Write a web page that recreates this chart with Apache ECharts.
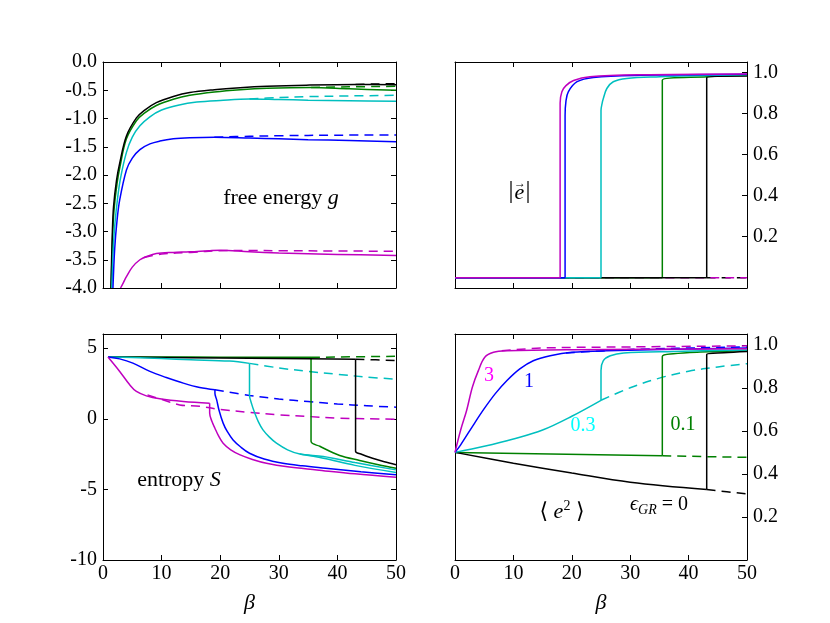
<!DOCTYPE html>
<html>
<head>
<meta charset="utf-8">
<title>free energy, entropy and eccentricity vs beta</title>
<script src="https://cdn.jsdelivr.net/npm/echarts@6/dist/echarts.min.js"></script>
<style>
  html, body { margin: 0; padding: 0; background: #fff; }
  #chart { width: 830px; height: 623px; }
</style>
</head>
<body>
<div id="chart"></div>
<script>
// Tick values
const xTicks = [0, 10, 20, 30, 40, 50];
const gTicks = [-4, -3.5, -3, -2.5, -2, -1.5, -1, -0.5, 0];
const eTicks = [0.2, 0.4, 0.6, 0.8, 1.0];
const sTicks = [-10, -5, 0, 5];
const e2Ticks = [0.2, 0.4, 0.6, 0.8, 1.0];

// Free energy g  [beta, g]
const gBlack = [[1.35,-4.0],[1.6,-3.0],[1.8,-2.56],[2.3,-2.1],[2.85,-1.79],[4,-1.31],[5.7,-0.99],[7,-0.86],[9.1,-0.72],[12,-0.61],[14.8,-0.54],[19,-0.49],[23.4,-0.455],[28,-0.43],[34.7,-0.41],[43.1,-0.398],[50,-0.402]];
const gBlackDash = [[43.1,-0.398],[46,-0.39],[50,-0.383]];
const gGreen = [[1.4,-4.0],[1.65,-3.05],[1.9,-2.6],[2.4,-2.15],[2.9,-1.85],[4,-1.36],[5.7,-1.04],[7,-0.91],[9.1,-0.77],[12,-0.66],[14.8,-0.59],[19,-0.53],[23.4,-0.49],[28,-0.465],[35.5,-0.452],[42,-0.475],[50,-0.5]];
const gGreenDash = [[35.5,-0.452],[42,-0.44],[50,-0.43]];
const gCyan = [[1.5,-4.0],[1.75,-3.3],[2.0,-2.9],[2.5,-2.4],[3,-2.05],[4,-1.6],[5,-1.33],[6.3,-1.13],[8,-0.97],[10,-0.85],[13,-0.76],[16,-0.71],[20,-0.68],[25,-0.655],[30,-0.665],[35,-0.675],[42,-0.685],[50,-0.695]];
const gCyanDash = [[25,-0.655],[30,-0.63],[35,-0.613],[42,-0.6],[50,-0.59]];
const gBlue = [[1.7,-4.0],[2.0,-3.3],[2.4,-2.8],[2.85,-2.44],[4,-1.91],[5,-1.7],[6.3,-1.55],[8,-1.45],[9.7,-1.4],[12,-1.36],[14.8,-1.34],[19,-1.33],[25,-1.345],[30,-1.36],[35,-1.375],[42,-1.39],[50,-1.41]];
const gBlueDash = [[19,-1.33],[25,-1.315],[30,-1.305],[40,-1.295],[50,-1.29]];
const gMagenta = [[3.0,-4.0],[3.5,-3.9],[4,-3.8],[5,-3.63],[6.3,-3.5],[7.5,-3.44],[9.1,-3.39],[12,-3.37],[14.8,-3.36],[18,-3.34],[20,-3.33],[25,-3.36],[30,-3.38],[40,-3.405],[50,-3.425]];
const gMagentaDash = [[7,-3.46],[10,-3.4],[15,-3.37],[20,-3.34],[25,-3.335],[30,-3.34],[40,-3.345],[50,-3.35]];

// |e|  [beta, |e|]
const eBlack = [[0,0],[43.1,0],[43.1,0.975],[50,0.982]];
const eBlackDash = [[43.1,0],[50,0]];
const eGreen = [[0,0],[35.5,0],[35.5,0.962],[43.1,0.978],[50,0.985]];
const eCyan = [[0,0],[25,0],[25,0.814],[25.2,0.85],[25.4,0.872],[26,0.921],[27.1,0.954],[29.4,0.97],[35.1,0.978],[42,0.984],[50,0.988]];
const eBlue = [[0,0],[18.85,0],[18.85,0.79],[19,0.86],[19.4,0.905],[20.9,0.954],[23.7,0.975],[31.7,0.985],[50,0.99]];
const eMagenta = [[0,0],[18,0],[18,0.85],[18.3,0.905],[19,0.935],[20.3,0.96],[23.1,0.978],[31.7,0.988],[50,0.992]];
const eMagentaDash = [[18,0],[50,0]];

// entropy S  [beta, S]
const sBlack = [[0.85,4.37],[10,4.34],[20,4.3],[30,4.26],[43.1,4.22],[43.1,-2.3],[44,-2.5],[46,-2.8],[48,-3.05],[50,-3.25]];
const sBlackDash = [[43.1,4.22],[50,4.12]];
const sGreen = [[0.85,4.37],[10,4.37],[20,4.36],[35.5,4.35],[35.5,-1.6],[37,-1.95],[40.4,-2.6],[43.8,-2.95],[47,-3.25],[50,-3.5]];
const sGreenDash = [[35.5,4.35],[50,4.42]];
const sCyan = [[0.85,4.37],[5,4.33],[10,4.26],[15,4.18],[21.6,4.08],[25,3.92],[25,1.69],[25.4,1.0],[25.9,0.4],[26.5,-0.2],[27.3,-0.79],[28.4,-1.3],[29.6,-1.73],[31.5,-2.2],[33.6,-2.5],[37.6,-2.68],[43,-3.1],[50,-3.62]];
const sCyanLow = [[33.6,-2.5],[37.6,-2.8],[43,-3.3],[50,-3.8]];
const sCyanDash = [[25,3.92],[30,3.6],[35,3.35],[40,3.15],[45,2.95],[50,2.8]];
const sBlue = [[0.85,4.37],[2.85,4.24],[5.1,3.94],[8,3.35],[10.8,2.92],[13.7,2.52],[16.5,2.21],[19.1,2.05],[19.1,1.8],[19.4,1.34],[19.8,0.6],[20.5,-0.31],[21.2,-0.9],[22.2,-1.5],[23.5,-2.0],[25,-2.44],[27.5,-2.85],[30.7,-3.15],[34,-3.33],[38,-3.5],[44,-3.75],[50,-3.97]];
const sBlueDash = [[19.1,2.05],[25,1.65],[30,1.4],[35,1.22],[40,1.05],[45,0.92],[50,0.82]];
const sMagenta = [[0.85,4.37],[2.85,3.35],[4.56,2.4],[5.7,1.93],[7.4,1.62],[9.7,1.41],[13.7,1.22],[18.2,1.1],[18.2,0.4],[18.6,-0.2],[19.1,-0.67],[19.7,-1.2],[20.5,-1.73],[21.8,-2.2],[23.4,-2.56],[25.5,-2.88],[27.9,-3.15],[31.5,-3.4],[36.5,-3.62],[43,-3.9],[50,-4.14]];
const sMagentaDash = [[7.6,1.69],[10.2,1.34],[13.1,0.98],[16.5,0.88],[20,0.66],[25,0.45],[30,0.28],[35,0.16],[40,0.05],[45,0],[50,-0.03]];

// <e^2>  [beta, <e^2>]
const e2Black = [[0,0.5],[10,0.45],[20,0.404],[30,0.361],[43.1,0.327],[43.1,0.955],[46,0.963],[50,0.969]];
const e2BlackDash = [[43.1,0.327],[50,0.307]];
const e2Green = [[0,0.5],[35.5,0.484],[35.5,0.945],[37.4,0.958],[42,0.966],[50,0.972]];
const e2GreenDash = [[35.5,0.484],[50,0.477]];
const e2Cyan = [[0,0.5],[5,0.528],[10,0.562],[15,0.604],[20,0.668],[25,0.742],[25,0.88],[25.4,0.926],[26.6,0.949],[28.9,0.962],[37.4,0.969],[50,0.976]];
const e2CyanDash = [[25,0.742],[30,0.8],[35,0.845],[40,0.877],[45,0.897],[50,0.912]];
const e2Blue = [[0,0.5],[0.97,0.535],[3.14,0.627],[5,0.703],[6.9,0.773],[8.9,0.834],[11.1,0.888],[13.4,0.926],[16.3,0.949],[20,0.965],[26,0.972],[50,0.985]];
const e2BlueDash = [[19,0.962],[30,0.978],[50,0.99]];
const e2Magenta = [[0,0.5],[0.97,0.604],[2,0.696],[2.97,0.803],[4,0.88],[5.1,0.942],[6.6,0.965],[8.9,0.972],[20,0.977],[50,0.982]];
const e2MagentaDash = [[8,0.972],[15,0.985],[30,0.99],[50,0.995]];

const FONT = '"Liberation Serif", "DejaVu Serif", serif';
const K = '#000000', G = '#008000', C = '#00bfbf', B = '#0000ff', M = '#bf00bf';

const chart = echarts.init(document.getElementById('chart'), null, { renderer: 'canvas' });

const grids = [
    { left: 103, top: 62, width: 293, height: 226 },
    { left: 455, top: 62, width: 292, height: 226 },
    { left: 103, top: 334, width: 293, height: 226 },
    { left: 455, top: 334, width: 292, height: 226 }
];

const lineColor = { color: '#000', width: 1 };

// bottom axis with labels (or not) plus a mirrored top axis for the frame ticks
function makeXAxes(i, labels) {
    const base = {
        gridIndex: i, type: 'value', min: 0, max: 50,
        axisLine: { show: true, onZero: false, lineStyle: lineColor },
        axisTick: { show: true, inside: true, length: 5, customValues: xTicks, lineStyle: lineColor },
        splitLine: { show: false }
    };
    return [
        Object.assign({}, base, {
            position: 'bottom',
            axisLabel: { show: labels, customValues: xTicks, margin: 4, fontFamily: FONT, fontSize: 20, color: '#000' },
            name: labels ? 'β' : '',
            nameLocation: 'middle',
            nameGap: 32,
            nameTextStyle: { fontFamily: FONT, fontSize: 22, fontStyle: 'italic', color: '#000' }
        }),
        Object.assign({}, base, { position: 'top', axisLabel: { show: false } })
    ];
}

// labelled axis on one side; the other side only closes the frame
// (left panels get mirrored ticks on the right, right panels get none on the left)
function makeYAxes(i, min, max, ticks, side, fmt) {
    const tick = { show: true, inside: true, length: 5, customValues: ticks, lineStyle: lineColor };
    const base = {
        gridIndex: i, type: 'value', min: min, max: max,
        axisLine: { show: true, onZero: false, lineStyle: lineColor },
        splitLine: { show: false }
    };
    const other = side === 'left' ? 'right' : 'left';
    return [
        Object.assign({}, base, {
            position: side,
            axisTick: tick,
            axisLabel: { show: true, customValues: ticks, margin: 6, fontFamily: FONT, fontSize: 20, color: '#000', formatter: fmt }
        }),
        Object.assign({}, base, {
            position: other,
            axisTick: side === 'left' ? tick : { show: false },
            axisLabel: { show: false }
        })
    ];
}

const fmt1 = v => v.toFixed(1);
const fmt0 = v => String(v);

const xAxis = [].concat(makeXAxes(0, false), makeXAxes(1, false), makeXAxes(2, true), makeXAxes(3, true));
const yAxis = [].concat(
    makeYAxes(0, -4, 0, gTicks, 'left', fmt1),
    makeYAxes(1, -0.05, 1.05, eTicks, 'right', fmt1),
    makeYAxes(2, -10, 6, sTicks, 'left', fmt0),
    makeYAxes(3, 0, 1.05, e2Ticks, 'right', fmt1)
);

function piece(panel, data, color, dashed) {
    return {
        type: 'line',
        xAxisIndex: panel * 2,
        yAxisIndex: panel * 2,
        data: data,
        showSymbol: false,
        symbol: 'none',
        silent: true,
        animation: false,
        smooth: 0.35,
        lineStyle: { color: color, width: 1.5, type: dashed ? [9, 6] : 'solid' }
    };
}

// a curve with a vertical jump is drawn as two smoothed pieces that meet at the
// top of the jump, so the spline never bends the vertical segment sideways
function line(panel, data, color, dashed) {
    for (let j = 1; j < data.length - 1; j++) {
        if (data[j][0] === data[j + 1][0]) {
            return [piece(panel, data.slice(0, j + 1), color, dashed),
                    piece(panel, data.slice(j), color, dashed)];
        }
    }
    return [piece(panel, data, color, dashed)];
}

const series = [].concat(
    // free energy
    line(0, gCyanDash, C, true), line(0, gBlueDash, B, true), line(0, gGreenDash, G, true),
    line(0, gBlackDash, K, true), line(0, gMagentaDash, M, true),
    line(0, gGreen, G), line(0, gBlack, K), line(0, gCyan, C), line(0, gBlue, B), line(0, gMagenta, M),
    // |e|
    line(1, eBlackDash, K, true), line(1, eMagentaDash, M, true),
    line(1, eGreen, G), line(1, eBlack, K), line(1, eCyan, C), line(1, eBlue, B), line(1, eMagenta, M),
    // entropy
    line(2, sCyanDash, C, true), line(2, sBlueDash, B, true), line(2, sGreenDash, G, true),
    line(2, sBlackDash, K, true), line(2, sMagentaDash, M, true),
    line(2, sGreen, G), line(2, sBlack, K), line(2, sCyan, C), line(2, sCyanLow, C), line(2, sBlue, B), line(2, sMagenta, M),
    // <e^2>
    line(3, e2CyanDash, C, true), line(3, e2BlueDash, B, true), line(3, e2GreenDash, G, true),
    line(3, e2BlackDash, K, true), line(3, e2MagentaDash, M, true),
    line(3, e2Green, G), line(3, e2Black, K), line(3, e2Cyan, C), line(3, e2Blue, B), line(3, e2Magenta, M)
);

function label(x, y, text, size, color, rich) {
    return {
        type: 'text', x: x, y: y, silent: true, z: 100,
        style: {
            text: text, fill: color || '#000', align: 'center', verticalAlign: 'middle',
            fontFamily: FONT, fontSize: size, rich: rich
        }
    };
}

const richBase = {
    t: { fontFamily: FONT, fontSize: 22, fill: '#000', lineHeight: 26 },
    i: { fontFamily: FONT, fontSize: 22, fontStyle: 'italic', fill: '#000', lineHeight: 26 }
};

const graphic = [
    label(281, 198, '{t|free energy }{i|g}', 22, '#000', richBase),
    label(179, 480, '{t|entropy }{i|S}', 22, '#000', richBase),
    label(519.5, 191, '{b||}{i|e}{b||}', 22, '#000', {
        b: { fontFamily: FONT, fontSize: 25, fill: '#000', lineHeight: 28 },
        i: { fontFamily: FONT, fontSize: 22, fontStyle: 'italic', fill: '#000', lineHeight: 28, padding: [4, 1, 0, 1] }
    }),
    label(520, 184, '→', 12, '#000'),
    label(562, 512, '{t|⟨ }{i|e}{sup|2}{t| ⟩}', 22, '#000', {
        t: richBase.t, i: richBase.i,
        sup: { fontFamily: FONT, fontSize: 14, fill: '#000', lineHeight: 14, verticalAlign: 'top' }
    }),
    label(659, 505, '{i|ϵ}{sub|GR}{t| = 0}', 20, '#000', {
        t: { fontFamily: FONT, fontSize: 20, fill: '#000', lineHeight: 24 },
        i: { fontFamily: FONT, fontSize: 20, fontStyle: 'italic', fill: '#000', lineHeight: 24 },
        sub: { fontFamily: FONT, fontSize: 14, fontStyle: 'italic', fill: '#000', lineHeight: 14, verticalAlign: 'bottom' }
    }),
    label(489, 376, '3', 20, '#ff00ff'),
    label(529, 382, '1', 20, '#0000ff'),
    label(583, 426, '0.3', 20, '#00ffff'),
    label(683, 425, '0.1', 20, '#008000')
];

chart.setOption({
    animation: false,
    backgroundColor: '#fff',
    grid: grids,
    xAxis: xAxis,
    yAxis: yAxis,
    series: series,
    graphic: graphic
});
</script>
</body>
</html>
